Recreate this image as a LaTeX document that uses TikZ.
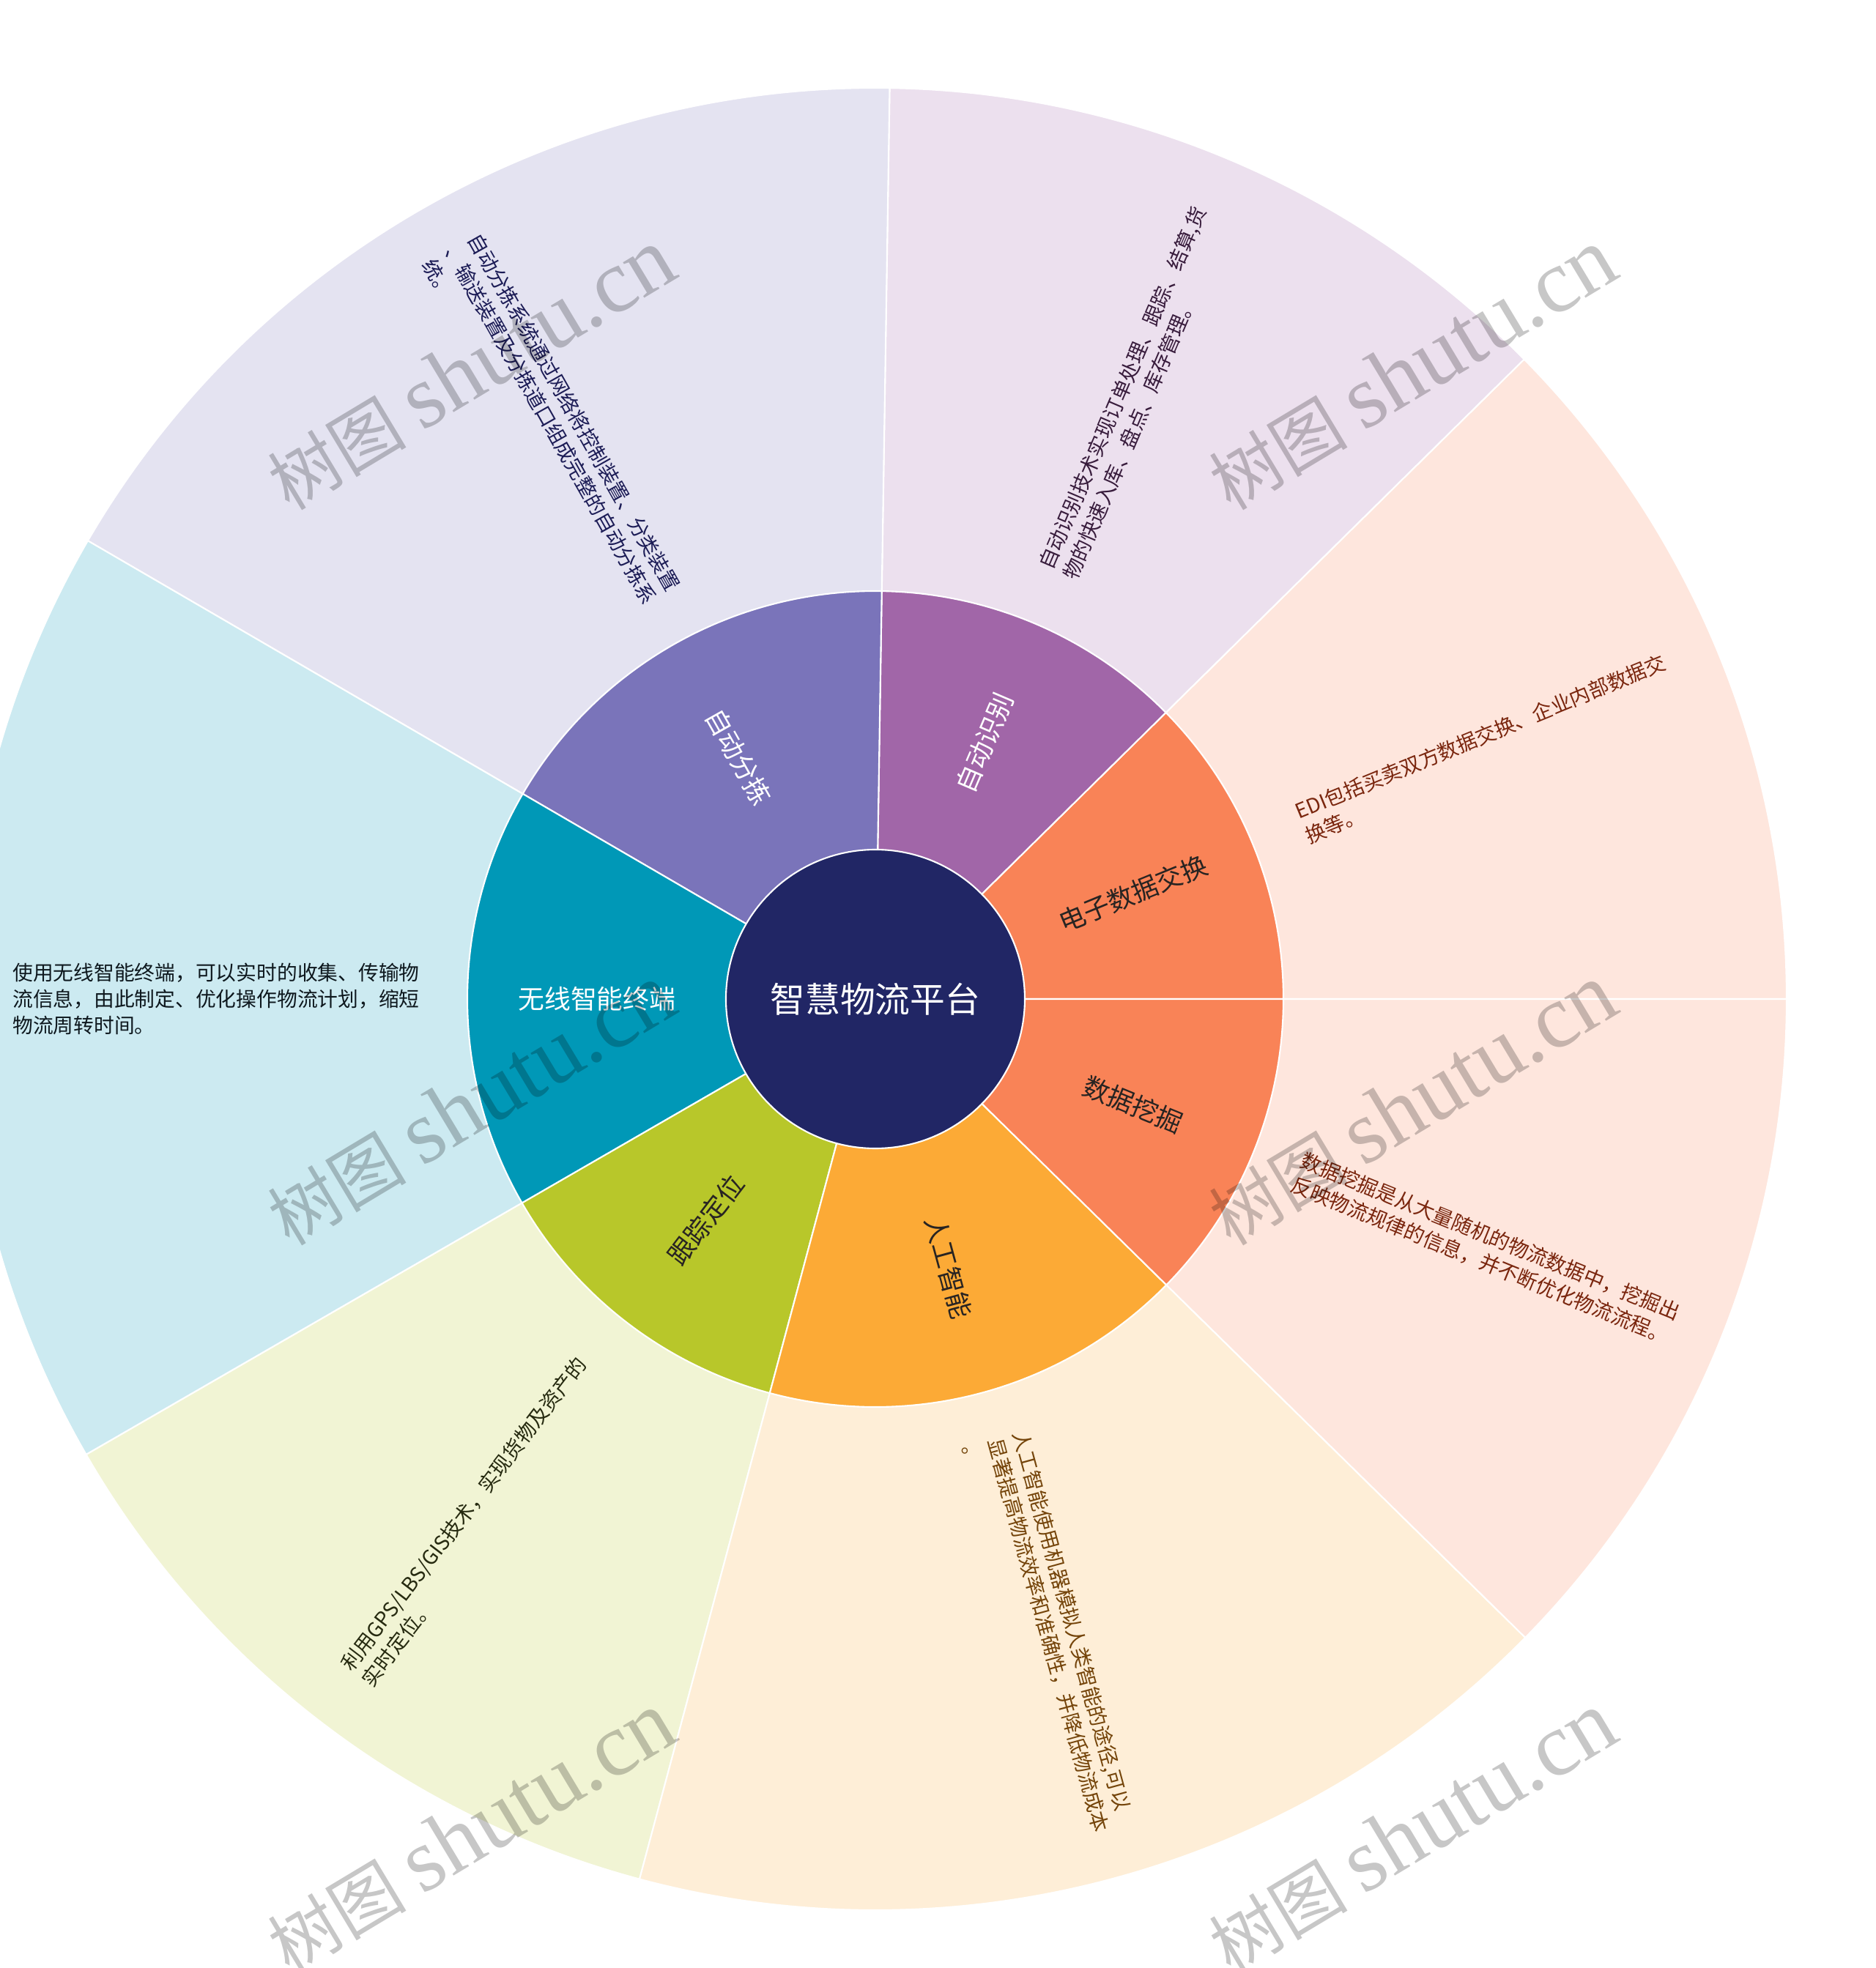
\documentclass[tikz,border=0pt]{standalone}
\usepackage{fontspec}
\setmainfont{Noto Sans CJK SC}
\newfontfamily\wmfont{Liberation Serif}
\usepackage{xcolor}
\definecolor{hubnavy}{RGB}{33,38,101}
\definecolor{cpurple}{RGB}{161,102,168}
\definecolor{cviolet}{RGB}{122,116,186}
\definecolor{corange}{RGB}{249,131,87}
\definecolor{camber}{RGB}{252,170,54}
\definecolor{clime}{RGB}{184,199,42}
\definecolor{cteal}{RGB}{0,152,183}
\definecolor{tviolet}{RGB}{28,28,86}
\definecolor{tpurple}{RGB}{56,28,60}
\definecolor{torange}{RGB}{122,38,14}
\definecolor{tamber}{RGB}{116,68,10}
\definecolor{tlime}{RGB}{38,42,16}
\definecolor{tteal}{RGB}{14,24,30}
\definecolor{tdark}{RGB}{40,36,34}
\usepackage{tikz}
\usetikzlibrary{calc}

\begin{document}
\begin{tikzpicture}[
    seclabel/.style={font=\fontsize{10.2}{12}\selectfont, inner sep=0pt},
    desc/.style={font=\fontsize{7.9}{10.2}\selectfont, align=left, inner sep=0pt},
    watermark/.style={text=black, text opacity=0.22, rotate=31, inner sep=0pt}
  ]
  \useasboundingbox (-11.95,-13.23) rectangle (13.65,13.64);
  \clip (-11.95,-13.23) rectangle (13.65,13.64);
  \fill[white] (-11.95,-13.23) rectangle (13.65,13.64);

  % Outer ring
  \foreach \a/\b/\c in {0/44.6/corange, 44.6/89.1/cpurple, 89.1/149.8/cviolet,
                        149.8/210/cteal, 210/255/clime, 255/315.5/camber, 315.5/360/corange} {
      \filldraw[fill=\c!20, draw=white, line width=0.6pt]
        (0,0) -- (\a:12.44) arc[start angle=\a, end angle=\b, radius=12.44] -- cycle;
  }

  % Middle ring
  \foreach \a/\b/\c in {0/44.6/corange, 44.6/89.1/cpurple, 89.1/149.8/cviolet,
                        149.8/210/cteal, 210/255/clime, 255/315.5/camber, 315.5/360/corange} {
      \filldraw[fill=\c, draw=white, line width=0.6pt]
        (0,0) -- (\a:5.57) arc[start angle=\a, end angle=\b, radius=5.57] -- cycle;
  }

  % Hub
  \node[circle, fill=hubnavy, draw=white, line width=0.6pt, minimum size=4.08cm,
        text=white, font=\fontsize{13.6}{16}\selectfont] (hub) at (0,0) {智慧物流平台};

  % Sector labels
  \foreach \i/\ang/\rot/\col/\txt in {1/22.3/22.3/tdark/电子数据交换, 2/66.85/66.85/white/自动识别,
                                      3/119.45/-60.55/white/自动分拣, 4/180/0/white/无线智能终端,
                                      5/232.5/52.5/tdark/跟踪定位, 6/285.25/-74.75/tdark/人工智能,
                                      7/337.75/-22.25/tdark/数据挖掘} {
      \node[seclabel, text=\col, rotate=\rot] (sec\i) at (\ang:3.8) {\txt};
  }

  % Descriptions
  \node[desc, text=torange, rotate=22.3] (txt1) at (22.3:9.0)
    {EDI包括买卖双方数据交换、企业内部数据交\\换等。};
  \node[desc, text=tpurple, rotate=66.85] (txt2) at (66.85:9.0)
    {自动识别技术实现订单处理、跟踪、结算,货\\物的快速入库、盘点、库存管理。};
  \node[desc, text=tviolet, rotate=-60.55] (txt3) at (119.45:9.0)
    {自动分拣系统通过网络将控制装置、分类装置\\、输送装置及分拣道口组成完整的自动分拣系\\统。};
  \node[desc, text=tteal] (txt4) at (180:9.0)
    {使用无线智能终端，可以实时的收集、传输物\\流信息，由此制定、优化操作物流计划，缩短\\物流周转时间。};
  \node[desc, text=tlime, rotate=52.5] (txt5) at (232.5:9.0)
    {利用GPS/LBS/GIS技术，实现货物及资产的\\实时定位。};
  \node[desc, text=tamber, rotate=-74.75] (txt6) at (285.25:9.0)
    {人工智能使用机器模拟人类智能的途径,可以\\显著提高物流效率和准确性，并降低物流成本\\。};
  \node[desc, text=torange, rotate=-22.25] (txt7) at (337.75:9.0)
    {数据挖掘是从大量随机的物流数据中，挖掘出\\反映物流规律的信息，并不断优化物流流程。};

  % Watermarks
  \foreach \i/\x/\y in {1/-5.52/8.6, 2/7.33/8.6, 3/-5.52/-1.44, 4/7.33/-1.44, 5/-5.52/-11.38, 6/7.33/-11.38} {
      \node[watermark] (wm\i) at (\x,\y) {\fontsize{27}{36}\selectfont 树图 {\wmfont\fontsize{35}{36}\selectfont shutu.cn}};
  }
\end{tikzpicture}
\end{document}
